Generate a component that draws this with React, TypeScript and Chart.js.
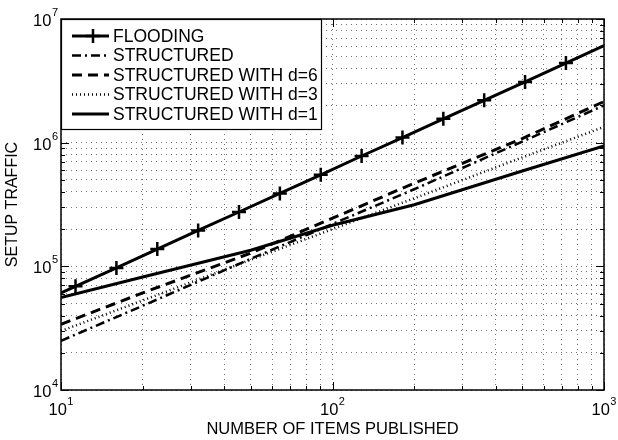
import { useEffect, useRef } from 'react';
import { Chart, registerables } from 'chart.js';

Chart.register(...registerables);

// ---- data ----
const floodingItems = [10, 11.31, 16, 22.63, 32, 45.25, 64, 90.51, 128, 181, 256, 362, 512, 724, 1000];
const floodingTraffic = [6.1e4, 6.9e4, 9.7e4, 1.38e5, 1.95e5, 2.75e5, 3.89e5, 5.5e5, 7.8e5, 1.1e6, 1.56e6, 2.2e6, 3.1e6, 4.4e6, 6.1e6];

const structuredItems = [10, 20, 50, 100, 200, 500, 1000];
const structuredTraffic = [2.5e4, 4.8e4, 1.15e5, 2.2e5, 4.2e5, 1.02e6, 2.0e6];
const structuredD6Traffic = [3.4e4, 6.1e4, 1.28e5, 2.45e5, 4.7e5, 1.08e6, 2.15e6];
const structuredD3Traffic = [3.0e4, 5.3e4, 1.13e5, 2.0e5, 3.55e5, 7.6e5, 1.34e6];
const structuredD1Traffic = [5.6e4, 8.2e4, 1.35e5, 2.15e5, 3.15e5, 5.9e5, 9.4e5];

const seriesNames = ['FLOODING', 'STRUCTURED', 'STRUCTURED WITH d=6', 'STRUCTURED WITH d=3', 'STRUCTURED WITH d=1'];

const xGridValues = [10, 20, 30, 40, 50, 60, 70, 80, 90, 100, 200, 300, 400, 500, 600, 700, 800, 900, 1000];
const yGridValues = [1e4, 2e4, 3e4, 4e4, 5e4, 6e4, 7e4, 8e4, 9e4, 1e5, 2e5, 3e5, 4e5, 5e5, 6e5, 7e5, 8e5, 9e5, 1e6, 2e6, 3e6, 4e6, 5e6, 6e6, 7e6, 8e6, 9e6, 1e7];
const xMajorTicks = [10, 100, 1000];
const yMajorTicks = [1e4, 1e5, 1e6, 1e7];

const xTitle = 'NUMBER OF ITEMS PUBLISHED';
const yTitle = 'SETUP TRAFFIC';

const FONT = '"Liberation Sans", Arial, Helvetica, sans-serif';

const isMajor = (v: number) => Math.abs(Math.log10(v) - Math.round(Math.log10(v))) < 1e-9;

function drawPow(ctx: CanvasRenderingContext2D, exp: string, x: number, baseY: number, align: 'center' | 'right') {
  ctx.font = `16.5px ${FONT}`;
  const wb = ctx.measureText('10').width;
  ctx.font = `11px ${FONT}`;
  const we = ctx.measureText(exp).width;
  const total = wb + we + 0.5;
  const start = align === 'center' ? x - total / 2 : x - total;
  ctx.textAlign = 'left';
  ctx.textBaseline = 'alphabetic';
  ctx.font = `16.5px ${FONT}`;
  ctx.fillText('10', start, baseY);
  ctx.font = `11px ${FONT}`;
  ctx.fillText(exp, start + wb + 0.5, baseY - 10);
}

const matlabPlugin = {
  id: 'matlabFrame',
  afterDraw(chart: any) {
    const { ctx, chartArea: a, scales } = chart;
    const xs = scales.x;
    const ys = scales.y;
    ctx.save();
    ctx.strokeStyle = '#000';
    ctx.fillStyle = '#000';
    ctx.setLineDash([]);
    // inward ticks
    ctx.lineWidth = 1;
    ctx.beginPath();
    for (const v of xGridValues) {
      const px = Math.round(xs.getPixelForValue(v)) + 0.5;
      const len = isMajor(v) ? 8 : 4;
      ctx.moveTo(px, a.bottom);
      ctx.lineTo(px, a.bottom - len);
      ctx.moveTo(px, a.top);
      ctx.lineTo(px, a.top + len);
    }
    for (const v of yGridValues) {
      const py = Math.round(ys.getPixelForValue(v)) + 0.5;
      const len = isMajor(v) ? 8 : 4;
      ctx.moveTo(a.left, py);
      ctx.lineTo(a.left + len, py);
      ctx.moveTo(a.right, py);
      ctx.lineTo(a.right - len, py);
    }
    ctx.stroke();
    // frame
    ctx.lineWidth = 1.5;
    ctx.strokeRect(a.left, a.top, a.right - a.left, a.bottom - a.top);

    // tick labels with superscript exponents
    for (const v of xMajorTicks) {
      const px = xs.getPixelForValue(v);
      drawPow(ctx, String(Math.round(Math.log10(v))), px, a.bottom + 25, 'center');
    }
    for (const v of yMajorTicks) {
      const py = ys.getPixelForValue(v);
      drawPow(ctx, String(Math.round(Math.log10(v))), a.left - 3, py + 7, 'right');
    }

    // legend
    const lx = a.left + 0.5;
    const ly = a.top + 0.5;
    const lw = 260;
    const rows = [36, 55.5, 75, 94.5, 114];
    const lh = 110;
    ctx.fillStyle = '#fff';
    ctx.fillRect(lx, ly, lw, lh);
    ctx.lineWidth = 1.2;
    ctx.strokeStyle = '#000';
    ctx.strokeRect(lx, ly, lw, lh);
    chart.data.datasets.forEach((ds: any, i: number) => {
      const y = rows[i];
      ctx.save();
      ctx.strokeStyle = '#000';
      ctx.lineWidth = ds.borderWidth;
      ctx.setLineDash(ds.borderDash || []);
      ctx.beginPath();
      ctx.moveTo(a.left + 11, y);
      ctx.lineTo(a.left + 48, y);
      ctx.stroke();
      if (ds.pointStyle === 'cross') {
        ctx.setLineDash([]);
        ctx.lineWidth = 2.5;
        const cx = a.left + 32;
        ctx.beginPath();
        ctx.moveTo(cx - 7, y);
        ctx.lineTo(cx + 7, y);
        ctx.moveTo(cx, y - 7);
        ctx.lineTo(cx, y + 7);
        ctx.stroke();
      }
      ctx.restore();
      ctx.fillStyle = '#000';
      ctx.font = `17.5px ${FONT}`;
      ctx.textAlign = 'left';
      ctx.textBaseline = 'middle';
      ctx.fillText(ds.label, a.left + 52, y + 1);
    });
    ctx.restore();
  },
};

const gridCommon = {
  color: 'rgba(0,0,0,0.55)',
  lineWidth: 1,
  drawTicks: false,
};

export default function App() {
  const ref = useRef<HTMLCanvasElement>(null);
  useEffect(() => {
    document.body.style.margin = '0';
    const canvas = ref.current!;
    const floodRadius = floodingItems.map((_, i) => (i === 0 || i === floodingItems.length - 1 ? 0 : 7));
    const chart = new Chart(canvas, {
      type: 'line',
      data: {
        datasets: [
          {
            label: seriesNames[0],
            data: floodingItems.map((x, i) => ({ x, y: floodingTraffic[i] })),
            borderColor: '#000',
            backgroundColor: '#000',
            borderWidth: 3,
            pointStyle: 'cross',
            pointRadius: floodRadius,
            pointBorderWidth: 2.5,
            pointBorderColor: '#000',
            fill: false,
          },
          {
            label: seriesNames[1],
            data: structuredItems.map((x, i) => ({ x, y: structuredTraffic[i] })),
            borderColor: '#000',
            borderWidth: 2.5,
            borderDash: [9, 4, 2, 4],
            pointRadius: 0,
            fill: false,
          },
          {
            label: seriesNames[2],
            data: structuredItems.map((x, i) => ({ x, y: structuredD6Traffic[i] })),
            borderColor: '#000',
            borderWidth: 3,
            borderDash: [10, 6],
            pointRadius: 0,
            fill: false,
          },
          {
            label: seriesNames[3],
            data: structuredItems.map((x, i) => ({ x, y: structuredD3Traffic[i] })),
            borderColor: '#000',
            borderWidth: 2.5,
            borderDash: [1, 3],
            pointRadius: 0,
            fill: false,
          },
          {
            label: seriesNames[4],
            data: structuredItems.map((x, i) => ({ x, y: structuredD1Traffic[i] })),
            borderColor: '#000',
            borderWidth: 3,
            pointRadius: 0,
            fill: false,
          },
        ],
      },
      options: {
        responsive: false,
        animation: false,
        devicePixelRatio: 1,
        layout: { padding: { top: 19, right: 14, left: 0, bottom: 0 } },
        plugins: { legend: { display: false }, tooltip: { enabled: false } },
        scales: {
          x: {
            type: 'logarithmic',
            min: 10,
            max: 1000,
            afterBuildTicks: (s: any) => {
              s.ticks = xGridValues.map((v) => ({ value: v }));
            },
            afterFit: (s: any) => {
              s.height = 50;
            },
            ticks: { display: false, autoSkip: false },
            grid: gridCommon,
            border: { display: false, dash: [1, 4] },
            title: {
              display: true,
              text: xTitle,
              color: '#000',
              font: { family: FONT, size: 16.5 },
              padding: { top: 0, bottom: 1 },
            },
          },
          y: {
            type: 'logarithmic',
            min: 1e4,
            max: 1e7,
            afterBuildTicks: (s: any) => {
              s.ticks = yGridValues.map((v) => ({ value: v }));
            },
            afterFit: (s: any) => {
              s.width = 61;
            },
            ticks: { display: false, autoSkip: false },
            grid: gridCommon,
            border: { display: false, dash: [1, 4] },
            title: {
              display: true,
              text: yTitle,
              color: '#000',
              font: { family: FONT, size: 16 },
              padding: { top: 3, bottom: 0 },
            },
          },
        },
      },
      plugins: [matlabPlugin],
    } as any);
    return () => chart.destroy();
  }, []);
  return (
    <div style={{ width: 618, height: 440 }}>
      <canvas ref={ref} width={618} height={440} style={{ display: 'block' }} />
    </div>
  );
}
